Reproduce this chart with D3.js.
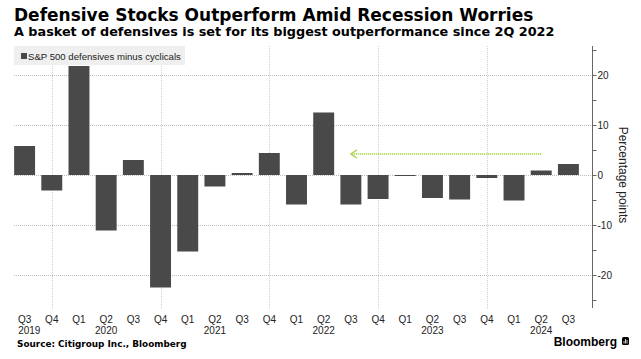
<!DOCTYPE html>
<html>
<head>
<meta charset="utf-8">
<script src="https://cdn.jsdelivr.net/npm/d3@7"></script>
<style>
  body { margin: 0; background: #fff; }
  svg { display: block; }
</style>
</head>
<body>
<script>
  // quarters shown on the chart, with the year each belongs to
  const quarters = ["Q3", "Q4", "Q1", "Q2", "Q3", "Q4", "Q1", "Q2", "Q3", "Q4", "Q1",
                    "Q2", "Q3", "Q4", "Q1", "Q2", "Q3", "Q4", "Q1", "Q2", "Q3"];
  const years = [2019, 2019, 2020, 2020, 2020, 2020, 2021, 2021, 2021, 2021, 2022,
                 2022, 2022, 2022, 2023, 2023, 2023, 2023, 2024, 2024, 2024];
  // S&P 500 defensives minus cyclicals, percentage points
  const values = [5.8, -3.1, 21.8, -11.1, 3.0, -22.5, -15.3, -2.3, 0.4, 4.4, -5.9,
                  12.5, -5.9, -4.8, -0.2, -4.6, -4.9, -0.6, -5.1, 0.9, 2.2];
  const yTicks = [-25, -20, -15, -10, -5, 0, 5, 10, 15, 20, 25];
  const yLabelled = [-20, -10, 0, 10, 20];
  // annotation arrow: from Q2 2024 back to Q3 2022 at about +4.2
  const arrowFrom = "2024 Q2", arrowTo = "2022 Q3", arrowLevel = 4.2;

  const width = 641, height = 359;
  const labelFont = "'Liberation Sans', Arial, sans-serif";
  const boldFont = "'DejaVu Sans', Verdana, sans-serif";

  const data = values.map(function(v, i) {
    return {key: years[i] + " " + quarters[i], q: quarters[i], year: years[i], value: v};
  });

  const svg = d3.select('body')
    .append('svg')
    .attr('width', width)
    .attr('height', height);

  svg.append('rect')
    .attr('width', width)
    .attr('height', height)
    .attr('fill', '#fff');

  const x = d3.scaleBand()
      .domain(data.map(function(d) { return d.key; }))
      .range([11, 582])
      .paddingInner(0.23)
      .paddingOuter(0.115);

  const y = d3.scaleLinear()
      .domain([-26.6, 25.8])
      .range([308, 46]);

  const axisX = 592;
  const cx = function(key) { return x(key) + x.bandwidth() / 2; };

  // titles
  svg.append('text')
    .attr('x', 14).attr('y', 21)
    .attr('font-family', boldFont)
    .attr('font-weight', 'bold')
    .attr('font-size', '17px')
    .attr('fill', '#000')
    .text('Defensive Stocks Outperform Amid Recession Worries');

  svg.append('text')
    .attr('x', 14).attr('y', 35.5)
    .attr('font-family', boldFont)
    .attr('font-weight', 'bold')
    .attr('font-size', '12.8px')
    .attr('fill', '#000')
    .text('A basket of defensives is set for its biggest outperformance since 2Q 2022');

  // gridlines
  svg.append('g')
    .selectAll('line')
    .data(yLabelled)
    .enter().append('line')
      .attr('x1', 14).attr('x2', axisX)
      .attr('y1', function(d) { return y(d) + 0.5; })
      .attr('y2', function(d) { return y(d) + 0.5; })
      .attr('stroke', '#bdbdbd')
      .attr('stroke-width', 1)
      .attr('stroke-dasharray', '1,1');

  svg.append('g')
    .selectAll('line')
    .data(data.filter(function(d) { return d.q === "Q4"; }))
    .enter().append('line')
      .attr('x1', function(d) { return Math.round(cx(d.key)) + 0.5; })
      .attr('x2', function(d) { return Math.round(cx(d.key)) + 0.5; })
      .attr('y1', 46).attr('y2', 310)
      .attr('stroke', '#d0d0d0')
      .attr('stroke-width', 1)
      .attr('stroke-dasharray', '1,1');

  // legend
  svg.append('rect')
    .attr('x', 14).attr('y', 46)
    .attr('width', 171).attr('height', 19)
    .attr('fill', '#efefef');
  svg.append('rect')
    .attr('x', 21).attr('y', 53)
    .attr('width', 6).attr('height', 6)
    .attr('fill', '#494949');
  svg.append('text')
    .attr('x', 28).attr('y', 59.5)
    .attr('font-family', labelFont)
    .attr('font-size', '9.6px')
    .attr('fill', '#222')
    .text('S&P 500 defensives minus cyclicals');

  // bars
  svg.append('g')
    .selectAll('rect')
    .data(data)
    .enter().append('rect')
      .attr('x', function(d) { return x(d.key); })
      .attr('width', x.bandwidth())
      .attr('y', function(d) { return y(Math.max(0, d.value)); })
      .attr('height', function(d) { return Math.abs(y(d.value) - y(0)); })
      .attr('fill', '#494949');

  // arrow annotation
  const ay = y(arrowLevel);
  const ax0 = cx(arrowFrom), ax1 = cx(arrowTo);
  svg.append('line')
    .attr('x1', ax0).attr('x2', ax1 + 1)
    .attr('y1', ay).attr('y2', ay)
    .attr('stroke', '#a8d64a')
    .attr('stroke-width', 2)
    .attr('stroke-dasharray', '1,1');
  svg.append('path')
    .attr('d', 'M' + (ax1 + 6) + ',' + (ay - 4) + 'L' + ax1 + ',' + ay + 'L' + (ax1 + 6) + ',' + (ay + 4))
    .attr('fill', 'none')
    .attr('stroke', '#a8d64a')
    .attr('stroke-width', 1.5);

  // right axis
  const yAxis = d3.axisRight(y)
      .tickValues(yTicks)
      .tickSize(4)
      .tickPadding(1)
      .tickFormat(function(d) { return d % 10 === 0 ? d : ''; });

  const ag = svg.append('g')
    .attr('transform', 'translate(' + (axisX + 0.5) + ',0)')
    .call(yAxis);
  ag.select('.domain').remove();
  ag.append('line')
    .attr('x1', 0).attr('x2', 0)
    .attr('y1', 46).attr('y2', 308)
    .attr('stroke', '#666');
  ag.selectAll('.tick line').attr('stroke', '#666');
  ag.selectAll('.tick text')
    .attr('font-family', labelFont)
    .attr('font-size', '10px')
    .attr('fill', '#222');

  svg.append('text')
    .attr('transform', 'translate(619,' + y(0) + ') rotate(90)')
    .attr('text-anchor', 'middle')
    .attr('font-family', labelFont)
    .attr('font-size', '12px')
    .attr('fill', '#222')
    .text('Percentage points');

  // quarter and year labels
  svg.append('g')
    .selectAll('text')
    .data(data)
    .enter().append('text')
      .attr('x', function(d) { return cx(d.key); })
      .attr('y', 323)
      .attr('text-anchor', 'middle')
      .attr('font-family', labelFont)
      .attr('font-size', '10px')
      .attr('fill', '#222')
      .text(function(d) { return d.q; });

  const yearList = Array.from(new Set(years));
  svg.append('g')
    .selectAll('text')
    .data(yearList)
    .enter().append('text')
      .attr('x', function(yr) {
        const k = yr + " Q2";
        if (x(k) !== undefined) return cx(k);
        return x(data.find(function(d) { return d.year === yr; }).key) + 4;
      })
      .attr('text-anchor', function(yr) { return x(yr + " Q2") !== undefined ? 'middle' : 'start'; })
      .attr('y', 333.5)
      .attr('font-family', labelFont)
      .attr('font-size', '10px')
      .attr('fill', '#222')
      .text(function(yr) { return yr; });

  // footer
  svg.append('text')
    .attr('x', 17).attr('y', 346.5)
    .attr('font-family', boldFont)
    .attr('font-weight', 'bold')
    .attr('font-size', '8.9px')
    .attr('fill', '#000')
    .text('Source: Citigroup Inc., Bloomberg');

  svg.append('text')
    .attr('x', 617).attr('y', 346)
    .attr('text-anchor', 'end')
    .attr('font-family', "'Liberation Sans', Arial, sans-serif")
    .attr('font-weight', 'bold')
    .attr('font-size', '12px')
    .attr('fill', '#000')
    .text('Bloomberg');

  const logo = svg.append('g').attr('transform', 'translate(622,337)');
  logo.append('rect')
    .attr('width', 7).attr('height', 8).attr('rx', 1.5)
    .attr('fill', '#000');
  logo.selectAll('line.b')
    .data([[2, 4, 6.5], [3.5, 2, 6.5], [5, 3, 6.5]])
    .enter().append('line')
      .attr('x1', function(d) { return d[0]; })
      .attr('x2', function(d) { return d[0]; })
      .attr('y1', function(d) { return d[1]; })
      .attr('y2', function(d) { return d[2]; })
      .attr('stroke', '#fff')
      .attr('stroke-width', 0.8);
</script>
</body>
</html>
